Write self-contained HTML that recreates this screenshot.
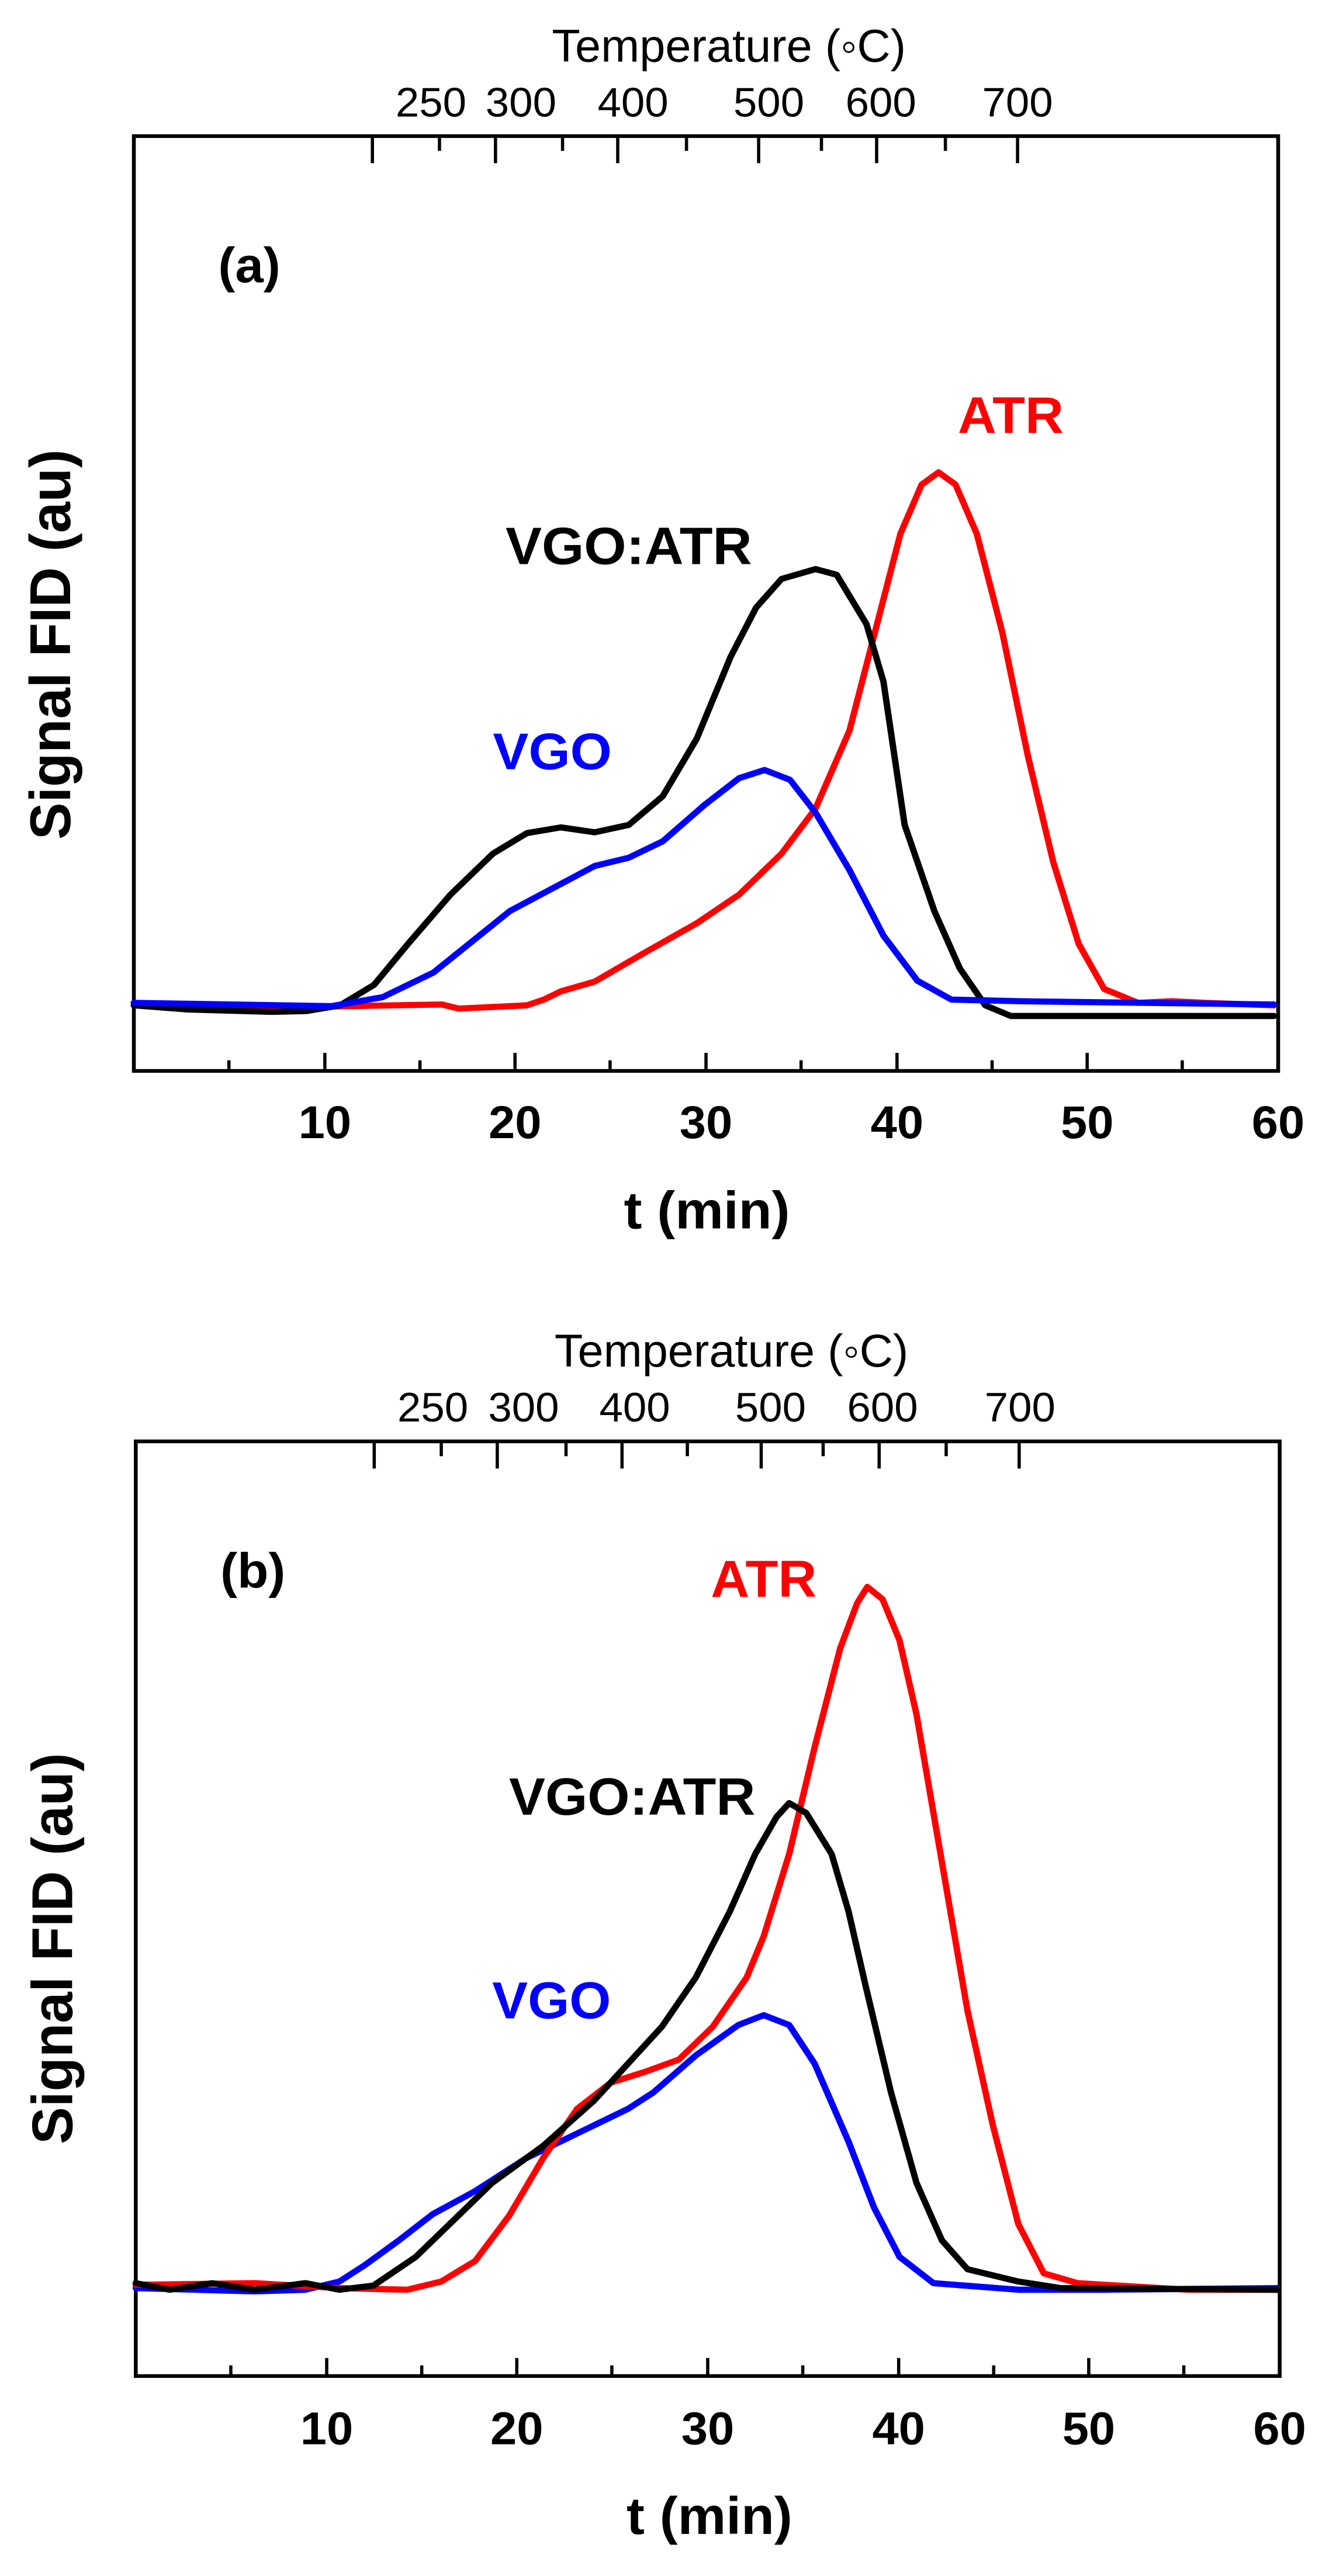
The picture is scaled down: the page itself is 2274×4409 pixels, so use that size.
<!DOCTYPE html>
<html><head><meta charset="utf-8"><style>html,body{margin:0;padding:0;background:#fff}svg{display:block}</style></head>
<body>
<svg xmlns="http://www.w3.org/2000/svg" width="2274" height="4409" viewBox="0 0 2274 4409" font-family="Liberation Sans, Arial, sans-serif">
<rect width="2274" height="4409" fill="#fff"/>
<!-- Panel a -->
<g transform="matrix(1.4525,0,0,1.4035,1,1.4)">
<rect x="157" y="165" width="1348" height="1140" fill="none" stroke="#000" stroke-width="4.5"/>
<g stroke="#000" stroke-width="3.8">
<path d="M438 165v33M583 165v33M727 165v33M893 165v33M1032 165v33M1198 165v33"/>
<path d="M517 165v18M662 165v18M808 165v18M967 165v18M1113 165v18"/>
<path d="M382 1305v-22M606 1305v-22M831 1305v-22M1056 1305v-22M1280 1305v-22"/>
<path d="M269 1305v-13M494 1305v-13M718 1305v-13M943 1305v-13M1168 1305v-13M1392 1305v-13"/>
</g>
<g font-size="50" text-anchor="middle">
<text x="507" y="141">250</text><text x="613" y="141">300</text><text x="745" y="141">400</text>
<text x="905" y="141">500</text><text x="1037" y="141">600</text><text x="1198" y="141">700</text>
<text x="858" y="74" font-size="56" textLength="417" lengthAdjust="spacingAndGlyphs">Temperature (◦C)</text>
</g>
<g font-size="56" font-weight="bold" text-anchor="middle">
<text x="382" y="1387">10</text><text x="606" y="1387">20</text><text x="831" y="1387">30</text>
<text x="1056" y="1387">40</text><text x="1280" y="1387">50</text><text x="1505" y="1387">60</text>
<text x="832" y="1497" font-size="64">t (min)</text>
<text transform="translate(82,785) rotate(-90)" font-size="68">Signal FID (au)</text>
<text x="293" y="343" font-size="60">(a)</text>
<text x="1190" y="527" font-size="63" fill="#f00">ATR</text>
<text x="740" y="687" font-size="64">VGO:ATR</text>
<text x="650" y="937" font-size="63" fill="#00f">VGO</text>
</g>
<g fill="none" stroke-width="7.5" stroke-linejoin="round" stroke-linecap="round">
<polyline stroke="#f00" points="157,1222 300,1228 520,1224 540,1229 620,1225 640,1218 660,1208 700,1196 760,1160 820,1125 870,1090 920,1040 960,985 1000,890 1030,770 1060,650 1085,590 1105,575 1125,590 1150,650 1180,770 1210,920 1240,1050 1270,1150 1300,1205 1340,1222 1380,1220 1420,1222 1500,1225"/>
<polyline stroke="#000" points="157,1225 220,1230 320,1233 360,1232 400,1225 440,1200 480,1150 530,1090 580,1040 620,1015 660,1008 700,1014 740,1005 780,970 820,900 860,800 890,740 920,705 960,693 985,700 1020,760 1040,830 1065,1005 1100,1110 1130,1180 1160,1225 1190,1238 1500,1238"/>
<polyline stroke="#00f" points="157,1222 390,1226 450,1215 510,1185 600,1110 700,1055 740,1045 780,1025 830,980 870,948 900,938 930,950 960,990 1000,1060 1040,1140 1080,1195 1120,1218 1200,1220 1350,1222 1500,1224"/>
</g>
</g>
<!-- Panel b -->
<g transform="matrix(1.452,0,0,1.407,0,2202.5)">
<rect x="160" y="188" width="1348" height="1137" fill="none" stroke="#000" stroke-width="4.5"/>
<g stroke="#000" stroke-width="3.8">
<path d="M441 188v33M586 188v33M733 188v33M897 188v33M1036 188v33M1201 188v33"/>
<path d="M520 188v18M667 188v18M810 188v18M970 188v18M1115 188v18"/>
<path d="M385 1325v-22M609 1325v-22M834 1325v-22M1059 1325v-22M1283 1325v-22"/>
<path d="M272 1325v-13M497 1325v-13M721 1325v-13M946 1325v-13M1171 1325v-13M1395 1325v-13"/>
</g>
<g font-size="50" text-anchor="middle">
<text x="510" y="164">250</text><text x="617" y="164">300</text><text x="748" y="164">400</text>
<text x="908" y="164">500</text><text x="1040" y="164">600</text><text x="1202" y="164">700</text>
<text x="862" y="97" font-size="56" textLength="417" lengthAdjust="spacingAndGlyphs">Temperature (◦C)</text>
</g>
<g font-size="56" font-weight="bold" text-anchor="middle">
<text x="385" y="1408">10</text><text x="609" y="1408">20</text><text x="834" y="1408">30</text>
<text x="1059" y="1408">40</text><text x="1283" y="1408">50</text><text x="1508" y="1408">60</text>
<text x="836" y="1517" font-size="64">t (min)</text>
<text transform="translate(85,805) rotate(-90)" font-size="68">Signal FID (au)</text>
<text x="298" y="366" font-size="60">(b)</text>
<text x="900" y="377" font-size="63" fill="#f00">ATR</text>
<text x="745" y="642" font-size="64">VGO:ATR</text>
<text x="650" y="890" font-size="63" fill="#00f">VGO</text>
</g>
<g fill="none" stroke-width="7.5" stroke-linejoin="round" stroke-linecap="round">
<polyline stroke="#00f" points="160,1218 300,1222 360,1220 400,1210 430,1190 470,1160 510,1128 560,1100 620,1060 680,1030 740,1000 770,980 820,935 870,898 900,886 930,898 960,945 1000,1040 1030,1120 1060,1180 1100,1212 1200,1220 1300,1220 1505,1218"/>
<polyline stroke="#f00" points="160,1214 300,1212 400,1218 480,1220 520,1210 560,1185 600,1130 640,1060 680,1000 720,968 760,955 800,940 840,900 880,840 900,790 930,690 960,560 990,440 1010,385 1022,365 1040,380 1060,430 1080,520 1110,700 1140,880 1170,1020 1200,1140 1230,1200 1270,1212 1400,1220 1505,1220"/>
<polyline stroke="#000" points="160,1212 200,1220 250,1212 300,1220 360,1212 400,1220 440,1215 490,1180 540,1130 580,1090 640,1045 700,990 740,945 780,900 820,840 860,760 890,690 915,645 930,628 950,640 980,690 1000,760 1020,850 1050,980 1080,1090 1110,1160 1140,1195 1200,1210 1250,1218 1505,1220"/>
</g>
</g>
</svg>
</body></html>
